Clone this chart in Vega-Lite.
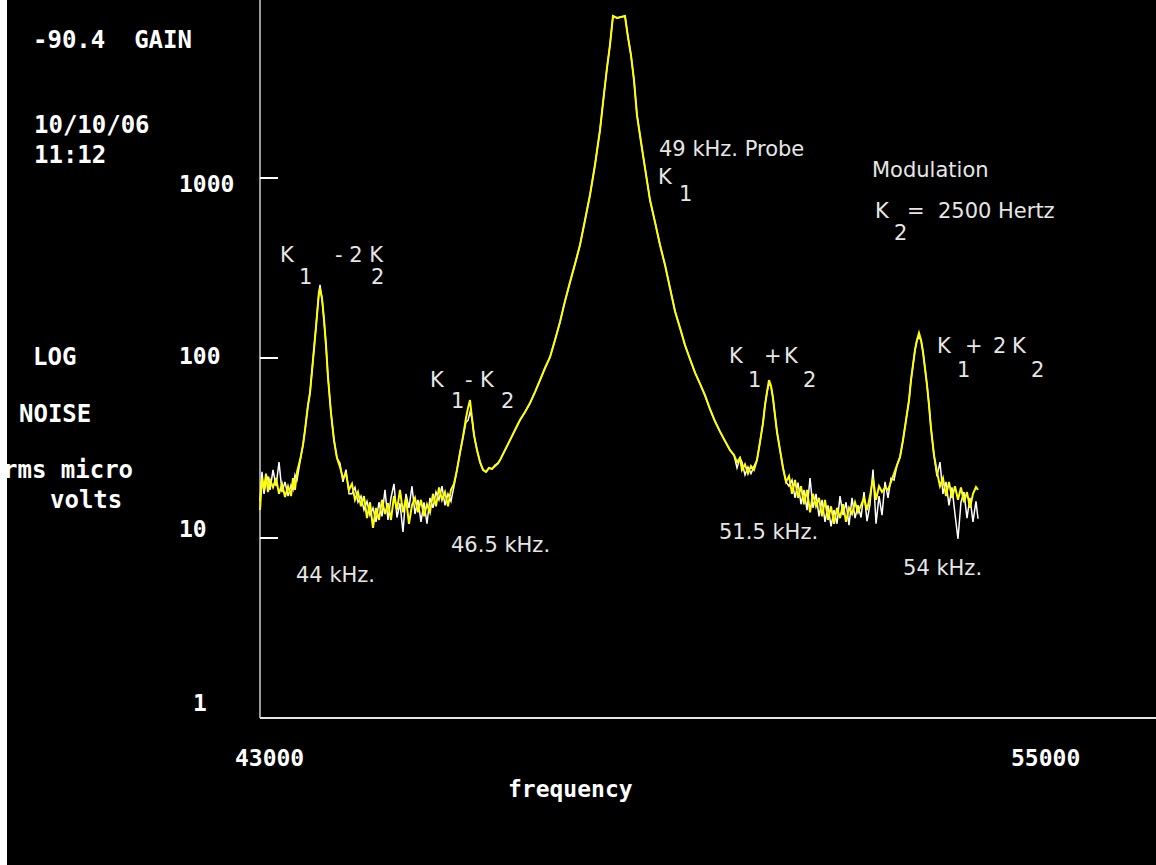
{
  "$schema": "https://vega.github.io/schema/vega-lite/v6.json",
  "width": 1149,
  "height": 865,
  "autosize": {"type": "none"},
  "padding": {"left": 7, "top": 0, "right": 0, "bottom": 0},
  "background": "white",
  "config": {"view": {"fill": "black", "stroke": null}},
  "datasets": {
    "trace": [
      {"f":43000,"v":14.3,"w":16.0},{"f":43033,"v":21.5,"w":23.3},{"f":43067,"v":18.5,"w":17.6},{"f":43100,"v":22.8,"w":20.5},
      {"f":43133,"v":18.0,"w":22.0},{"f":43167,"v":21.0,"w":18.5},{"f":43217,"v":19.1,"w":23.9},{"f":43267,"v":21.5,"w":19.4},
      {"f":43317,"v":17.6,"w":26.4},{"f":43367,"v":20.0,"w":18.0},{"f":43417,"v":16.9,"w":20.5},{"f":43467,"v":19.4,"w":17.1},
      {"f":43517,"v":17.1,"w":19.7},{"f":43550,"v":21.5,"w":18.5},{"f":43583,"v":18.5,"w":22.4},{"f":43617,"v":23.3,"w":21.0},
      {"f":43667,"v":27.1,"w":26.5},{"f":43717,"v":32.9,"w":32.9},{"f":43750,"v":39.8,"w":39.8},{"f":43800,"v":54.8,"w":54.8},
      {"f":43833,"v":63.9,"w":63.9},{"f":43883,"v":97.4,"w":97.4},{"f":43933,"v":148.6,"w":148.6},{"f":43967,"v":202,"w":202},
      {"f":43983,"v":233,"w":233},{"f":44000,"v":240,"w":255},{"f":44033,"v":215,"w":215},{"f":44067,"v":163,"w":163},
      {"f":44100,"v":118,"w":118},{"f":44133,"v":78.4,"w":78.4},{"f":44183,"v":49.5,"w":49.5},{"f":44233,"v":35.0,"w":35.0},
      {"f":44283,"v":27.8,"w":27.8},{"f":44333,"v":24.8,"w":26.0},{"f":44383,"v":21.5,"w":20.5},{"f":44433,"v":22.8,"w":24.0},
      {"f":44483,"v":18.5,"w":17.6},
      {"f":44533,"v":20.0,"w":17.6},{"f":44583,"v":16.3,"w":19.1},{"f":44633,"v":18.0,"w":15.8},{"f":44683,"v":15.0,"w":17.1},
      {"f":44733,"v":17.1,"w":14.3},{"f":44783,"v":12.9,"w":16.0},{"f":44833,"v":15.8,"w":13.4},{"f":44883,"v":11.4,"w":14.7},
      {"f":44933,"v":14.7,"w":12.3},{"f":44983,"v":12.6,"w":15.8},{"f":45033,"v":16.3,"w":13.2},{"f":45083,"v":13.6,"w":18.5},
      {"f":45133,"v":15.6,"w":12.6},{"f":45183,"v":12.6,"w":16.7},{"f":45233,"v":17.1,"w":20.0},{"f":45283,"v":14.3,"w":13.0},
      {"f":45333,"v":18.5,"w":15.6},{"f":45383,"v":13.9,"w":10.8},{"f":45433,"v":16.7,"w":17.6},{"f":45483,"v":12.0,"w":14.7},
      {"f":45533,"v":15.2,"w":19.4},{"f":45583,"v":16.7,"w":13.6},{"f":45633,"v":13.9,"w":16.3},{"f":45683,"v":16.3,"w":12.3},
      {"f":45733,"v":13.2,"w":15.8},{"f":45783,"v":15.4,"w":12.0},{"f":45833,"v":13.9,"w":16.7},{"f":45883,"v":17.6,"w":14.7},
      {"f":45933,"v":15.0,"w":18.0},{"f":45983,"v":19.1,"w":16.3},{"f":46033,"v":16.3,"w":19.4},{"f":46083,"v":18.0,"w":15.2},
      {"f":46133,"v":15.0,"w":17.6},{"f":46183,"v":18.5,"w":16.0},{"f":46233,"v":20.0,"w":19.4},
      {"f":46283,"v":23.9,"w":23.9},{"f":46333,"v":29.7,"w":29.7},{"f":46383,"v":36.4,"w":36.4},{"f":46433,"v":46.4,"w":44.0},
      {"f":46467,"v":52.7,"w":45.0},{"f":46500,"v":58.4,"w":50.0},{"f":46533,"v":46.4,"w":46.4},{"f":46567,"v":37.3,"w":37.3},
      {"f":46617,"v":30.8,"w":30.8},{"f":46667,"v":26.4,"w":26.4},{"f":46717,"v":23.9,"w":23.9},{"f":46767,"v":23.3,"w":23.3},
      {"f":46817,"v":24.5,"w":24.5},{"f":46867,"v":24.2,"w":24.2},{"f":46917,"v":25.1,"w":25.4},{"f":46967,"v":26.0,"w":26.1},
      {"f":47000,"v":27.1,"w":27.1},{"f":47083,"v":30.8,"w":30.8},{"f":47167,"v":35.0,"w":35.0},{"f":47250,"v":39.8,"w":39.8},
      {"f":47333,"v":45.2,"w":45.2},{"f":47417,"v":50.1,"w":50.1},{"f":47500,"v":56.2,"w":56.2},{"f":47583,"v":64.7,"w":64.7},
      {"f":47667,"v":75.4,"w":75.4},{"f":47750,"v":88.0,"w":88.0},{"f":47833,"v":101,"w":101},{"f":47917,"v":126,"w":126},
      {"f":48000,"v":158.5,"w":158.5},{"f":48083,"v":207,"w":207},{"f":48167,"v":264,"w":264},{"f":48250,"v":333,"w":333},
      {"f":48333,"v":424,"w":424},{"f":48417,"v":584,"w":584},{"f":48500,"v":805,"w":805},{"f":48583,"v":1181,"w":1181},
      {"f":48667,"v":1849,"w":1849},{"f":48733,"v":2929,"w":2929},{"f":48783,"v":4084,"w":4084},{"f":48833,"v":5483,"w":5483},
      {"f":48883,"v":7943,"w":7943},{"f":48950,"v":7743,"w":7743},{"f":49017,"v":7843,"w":7843},{"f":49083,"v":7943,"w":7943},
      {"f":49133,"v":6069,"w":6069},{"f":49183,"v":4822,"w":4822},{"f":49233,"v":3502,"w":3502},{"f":49283,"v":2238,"w":2238},
      {"f":49350,"v":1585,"w":1585},{"f":49417,"v":1136,"w":1136},{"f":49500,"v":754,"w":754},{"f":49583,"v":570,"w":570},
      {"f":49667,"v":424,"w":424},{"f":49750,"v":329,"w":329},{"f":49833,"v":245,"w":245},{"f":49917,"v":182,"w":182},
      {"f":50000,"v":147,"w":147},{"f":50083,"v":118,"w":118},{"f":50167,"v":98.5,"w":98.5},{"f":50250,"v":83.0,"w":83.0},
      {"f":50333,"v":72.0,"w":72.0},{"f":50417,"v":62.0,"w":62.0},{"f":50500,"v":52.0,"w":52.0},{"f":50583,"v":44.5,"w":44.5},
      {"f":50667,"v":39.0,"w":39.0},{"f":50750,"v":34.6,"w":34.6},{"f":50833,"v":30.8,"w":30.8},{"f":50900,"v":28.9,"w":28.9},
      {"f":50950,"v":26.4,"w":24.5},{"f":51000,"v":27.8,"w":27.8},{"f":51033,"v":23.9,"w":26.4},{"f":51083,"v":25.7,"w":22.4},
      {"f":51133,"v":22.8,"w":24.8},{"f":51183,"v":25.1,"w":22.8},{"f":51233,"v":23.9,"w":25.0},{"f":51283,"v":27.1,"w":27.1},
      {"f":51333,"v":34.1,"w":34.1},{"f":51383,"v":43.5,"w":43.5},{"f":51417,"v":54.8,"w":54.8},{"f":51450,"v":64.7,"w":64.7},
      {"f":51483,"v":75.4,"w":72.0},{"f":51517,"v":69.9,"w":69.9},{"f":51550,"v":59.9,"w":59.9},{"f":51583,"v":48.2,"w":48.2},
      {"f":51617,"v":38.8,"w":38.8},{"f":51667,"v":30.8,"w":30.8},{"f":51717,"v":24.5,"w":24.5},{"f":51767,"v":20.5,"w":20.5},
      {"f":51817,"v":22.1,"w":19.4},{"f":51867,"v":17.6,"w":21.0},{"f":51917,"v":21.0,"w":16.7},{"f":51967,"v":16.7,"w":20.3},
      {"f":52017,"v":19.4,"w":15.4},{"f":52067,"v":15.4,"w":18.5},{"f":52117,"v":18.5,"w":14.3},{"f":52167,"v":13.9,"w":21.5},
      {"f":52217,"v":17.6,"w":14.7},{"f":52267,"v":15.0,"w":17.6},{"f":52317,"v":16.7,"w":13.2},{"f":52367,"v":13.2,"w":16.3},
      {"f":52417,"v":16.3,"w":12.3},{"f":52467,"v":12.6,"w":15.2},{"f":52517,"v":15.0,"w":11.6},{"f":52567,"v":12.0,"w":14.3},
      {"f":52617,"v":14.7,"w":12.0},{"f":52667,"v":12.9,"w":17.1},{"f":52717,"v":15.4,"w":13.4},{"f":52767,"v":12.3,"w":15.8},
      {"f":52817,"v":14.7,"w":11.8},{"f":52867,"v":13.6,"w":16.7},{"f":52917,"v":15.8,"w":12.9},{"f":52967,"v":13.9,"w":15.2},
      {"f":53017,"v":15.2,"w":13.0},{"f":53067,"v":16.7,"w":18.0},{"f":53117,"v":14.3,"w":12.4},{"f":53167,"v":17.1,"w":15.4},
      {"f":53217,"v":21.5,"w":24.0},{"f":53267,"v":16.3,"w":12.0},{"f":53317,"v":19.4,"w":17.1},{"f":53367,"v":18.0,"w":13.4},
      {"f":53417,"v":19.1,"w":20.5},{"f":53467,"v":18.5,"w":16.7},{"f":53517,"v":20.5,"w":21.5},{"f":53567,"v":22.8,"w":21.0},
      {"f":53617,"v":25.4,"w":25.4},{"f":53667,"v":28.2,"w":28.2},{"f":53717,"v":35.0,"w":35.0},{"f":53767,"v":45.2,"w":45.2},
      {"f":53817,"v":58.4,"w":58.4},{"f":53850,"v":75.4,"w":75.4},{"f":53883,"v":91.4,"w":91.4},{"f":53917,"v":111,"w":111},
      {"f":53950,"v":126,"w":126},{"f":53983,"v":138,"w":130},{"f":54017,"v":126,"w":126},{"f":54050,"v":108,"w":108},
      {"f":54083,"v":88.0,"w":88.0},{"f":54117,"v":70.8,"w":70.8},{"f":54150,"v":54.8,"w":54.8},{"f":54183,"v":40.8,"w":40.8},
      {"f":54233,"v":28.9,"w":28.9},{"f":54283,"v":23.3,"w":22.0},
      {"f":54333,"v":19.4,"w":26.4},{"f":54383,"v":21.5,"w":17.6},{"f":54433,"v":17.1,"w":20.5},{"f":54483,"v":20.5,"w":15.2},
      {"f":54533,"v":16.7,"w":19.1},{"f":54583,"v":19.4,"w":13.6},{"f":54633,"v":16.3,"w":9.9},{"f":54683,"v":19.1,"w":15.8},
      {"f":54733,"v":15.8,"w":18.0},{"f":54783,"v":18.0,"w":12.9},{"f":54833,"v":14.7,"w":16.7},{"f":54883,"v":17.6,"w":12.3},
      {"f":54933,"v":19.2,"w":16.0},{"f":54967,"v":18.5,"w":12.8}
    ],
    "hdr": [
      {"f":39217,"v":5275,"t":"-90.4\u00a0\u00a0GAIN"},
      {"f":39233,"v":1778,"t":"10/10/06"},
      {"f":39233,"v":1211,"t":"11:12"},
      {"f":39217,"v":91.45,"t":"LOG"},
      {"f":38983,"v":44.1,"t":"NOISE"},
      {"f":38717,"v":21.54,"t":"rms micro"},
      {"f":39500,"v":14.68,"t":"volts"}
    ],
    "ticklabels": [
      {"f":41650,"v":835.9,"t":"1000"},
      {"f":41650,"v":92.6,"t":"100"},
      {"f":41650,"v":10.13,"t":"10"},
      {"f":41883,"v":1.094,"t":"1"},
      {"f":42583,"v":0.5412,"t":"43000"},
      {"f":55517,"v":0.5412,"t":"55000"},
      {"f":47133,"v":0.364,"t":"frequency"}
    ],
    "notes": [
      {"f":49650,"v":1325,"t":"49 kHz. Probe"},
      {"f":49633,"v":926,"t":"K"},
      {"f":49983,"v":745,"t":"1"},
      {"f":53200,"v":1013,"t":"Modulation"},
      {"f":53250,"v":599.5,"t":"K"},
      {"f":53567,"v":452.5,"t":"2"},
      {"f":53783,"v":599.5,"t":"=\u00a0\u00a02500 Hertz"},
      {"f":43333,"v":341.5,"t":"K"},
      {"f":44250,"v":341.5,"t":"- 2 K"},
      {"f":43650,"v":257.8,"t":"1"},
      {"f":44850,"v":257.8,"t":"2"},
      {"f":45833,"v":69.0,"t":"K"},
      {"f":46417,"v":69.0,"t":"-"},
      {"f":46667,"v":69.0,"t":"K"},
      {"f":46183,"v":52.75,"t":"1"},
      {"f":47017,"v":52.75,"t":"2"},
      {"f":50817,"v":93.8,"t":"K"},
      {"f":51400,"v":93.8,"t":"+"},
      {"f":51733,"v":93.8,"t":"K"},
      {"f":51133,"v":69.0,"t":"1"},
      {"f":52050,"v":69.0,"t":"2"},
      {"f":54283,"v":106.6,"t":"K"},
      {"f":54750,"v":106.6,"t":"+"},
      {"f":55217,"v":106.6,"t":"2"},
      {"f":55533,"v":106.6,"t":"K"},
      {"f":54617,"v":78.4,"t":"1"},
      {"f":55850,"v":78.4,"t":"2"},
      {"f":43600,"v":5.695,"t":"44 kHz."},
      {"f":46183,"v":8.36,"t":"46.5 kHz."},
      {"f":50650,"v":9.87,"t":"51.5 kHz."},
      {"f":53717,"v":6.23,"t":"54 kHz."}
    ]
  },
  "layer": [
    {
      "data": {"values": [{"f": 43000, "v": 1, "v2": 9747}]},
      "mark": {"type": "rule", "color": "#cfcfcf", "strokeWidth": 1.5},
      "encoding": {
        "x": {"field": "f", "type": "quantitative", "scale": {"domain": [38783.33, 57933.33], "nice": false, "zero": false}, "axis": null},
        "y": {"field": "v", "type": "quantitative", "scale": {"type": "log", "domain": [0.15259, 9747], "nice": false}, "axis": null},
        "y2": {"field": "v2"}
      }
    },
    {
      "data": {"values": [{"f": 43000, "f2": 57933, "v": 1}]},
      "mark": {"type": "rule", "color": "#e6e6e6", "strokeWidth": 2},
      "encoding": {
        "x": {"field": "f", "type": "quantitative", "axis": null},
        "x2": {"field": "f2"},
        "y": {"field": "v", "type": "quantitative", "axis": null}
      }
    },
    {
      "data": {"values": [{"f": 43000, "f2": 43300, "v": 10}, {"f": 43000, "f2": 43300, "v": 100}, {"f": 43000, "f2": 43300, "v": 1000}]},
      "mark": {"type": "rule", "color": "#ffffff", "strokeWidth": 2},
      "encoding": {
        "x": {"field": "f", "type": "quantitative", "axis": null},
        "x2": {"field": "f2"},
        "y": {"field": "v", "type": "quantitative", "axis": null}
      }
    },
    {
      "data": {"name": "trace"},
      "mark": {"type": "line", "color": "#ffffff", "strokeWidth": 1.5},
      "encoding": {
        "x": {"field": "f", "type": "quantitative", "axis": null},
        "y": {"field": "w", "type": "quantitative", "axis": null}
      }
    },
    {
      "data": {"name": "trace"},
      "mark": {"type": "line", "color": "#ffff00", "strokeWidth": 2},
      "encoding": {
        "x": {"field": "f", "type": "quantitative", "axis": null},
        "y": {"field": "v", "type": "quantitative", "axis": null}
      }
    },
    {
      "data": {"name": "hdr"},
      "mark": {"type": "text", "font": "DejaVu Sans Mono", "fontWeight": "bold", "fontSize": 24, "color": "#ffffff", "align": "left", "baseline": "alphabetic"},
      "encoding": {
        "x": {"field": "f", "type": "quantitative", "axis": null},
        "y": {"field": "v", "type": "quantitative", "axis": null},
        "text": {"field": "t"}
      }
    },
    {
      "data": {"name": "ticklabels"},
      "mark": {"type": "text", "font": "DejaVu Sans Mono", "fontWeight": "bold", "fontSize": 23, "color": "#ffffff", "align": "left", "baseline": "alphabetic"},
      "encoding": {
        "x": {"field": "f", "type": "quantitative", "axis": null},
        "y": {"field": "v", "type": "quantitative", "axis": null},
        "text": {"field": "t"}
      }
    },
    {
      "data": {"name": "notes"},
      "mark": {"type": "text", "font": "DejaVu Sans", "fontSize": 21, "color": "#e6e6e6", "align": "left", "baseline": "alphabetic"},
      "encoding": {
        "x": {"field": "f", "type": "quantitative", "axis": null},
        "y": {"field": "v", "type": "quantitative", "axis": null},
        "text": {"field": "t"}
      }
    }
  ]
}
